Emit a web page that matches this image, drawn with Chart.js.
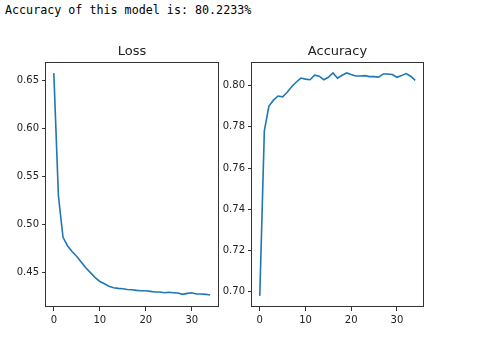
<!DOCTYPE html>
<html>
<head>
<meta charset="utf-8">
<script src="https://cdn.jsdelivr.net/npm/chart.js@4/dist/chart.umd.min.js"></script>
<style>
  body { margin: 0; background: #fff; width: 490px; height: 338px; position: relative; overflow: hidden; }
  #caption { position: absolute; left: 5px; top: 3px; font-family: "DejaVu Sans Mono", monospace; font-size: 11.7px; color: #000; white-space: pre; }
  canvas { position: absolute; }
  #lossChart { left: 0; top: 36px; }
  #accChart { left: 212px; top: 36px; }
</style>
</head>
<body>
<div id="caption">Accuracy of this model is: 80.2233%</div>
<canvas id="lossChart" width="222" height="302"></canvas>
<canvas id="accChart" width="216" height="302"></canvas>
<script>
// epochs and history
const epochs = [0, 1, 2, 3, 4, 5, 6, 7, 8, 9, 10, 11, 12, 13, 14, 15, 16,
  17, 18, 19, 20, 21, 22, 23, 24, 25, 26, 27, 28, 29, 30, 31, 32, 33, 34];

const lossValues = [0.658, 0.530, 0.487, 0.478, 0.472, 0.467, 0.461, 0.455, 0.450, 0.445,
  0.441, 0.4386, 0.436, 0.4345, 0.4338, 0.4334, 0.4327, 0.4324, 0.4317, 0.4314,
  0.4314, 0.4307, 0.4300, 0.4300, 0.4293, 0.4297, 0.4293, 0.4290, 0.4276, 0.4286,
  0.4293, 0.4280, 0.4279, 0.4276, 0.4269];

const accValues = [0.698, 0.778, 0.790, 0.7929, 0.7949, 0.7945, 0.7967, 0.7995, 0.8017, 0.8036,
  0.8031, 0.8028, 0.8050, 0.8045, 0.8028, 0.8040, 0.8061, 0.8036, 0.8050, 0.8061,
  0.8053, 0.8046, 0.8046, 0.8048, 0.8043, 0.8043, 0.8041, 0.8056, 0.8056, 0.8053,
  0.8040, 0.8048, 0.8058, 0.8045, 0.8025];

const xTicks = [0, 10, 20, 30];
const lossTicks = [0.45, 0.50, 0.55, 0.60, 0.65];
const accTicks = [0.70, 0.72, 0.74, 0.76, 0.78, 0.80];

const LINE = '#1f77b4';
const AXIS = '#333333';

// matplotlib style box around the plot area
const frame = {
  id: 'frame',
  afterDraw(chart) {
    const a = chart.chartArea;
    const c = chart.ctx;
    c.save();
    c.strokeStyle = AXIS;
    c.lineWidth = 1;
    c.strokeRect(Math.round(a.left) - 0.5, Math.round(a.top) + 0.5,
      Math.round(a.right - a.left) + 1, Math.round(a.bottom - a.top) - 1);
    c.restore();
  }
};

function makePlot(id, title, values, yTicks, yMin, yMax, yWidth, padRight) {
  const ctx = document.getElementById(id);
  new Chart(ctx, {
    type: 'line',
    data: {
      datasets: [{
        data: epochs.map((e, i) => ({ x: e, y: values[i] })),
        borderColor: LINE,
        borderWidth: 1.6,
        pointRadius: 0,
        tension: 0,
        fill: false
      }]
    },
    options: {
      responsive: false,
      animation: false,
      devicePixelRatio: 1,
      layout: { padding: { left: 0, right: padRight, top: 0, bottom: 0 } },
      plugins: {
        legend: { display: false },
        tooltip: { enabled: false },
        title: {
          display: true,
          fullSize: false,
          text: title,
          color: '#222',
          font: { family: 'DejaVu Sans', size: 13, weight: 'normal' },
          padding: { top: 8, bottom: 2.4 }
        }
      },
      scales: {
        x: {
          type: 'linear',
          min: -1.7,
          max: 35.7,
          afterBuildTicks: s => { s.ticks = xTicks.map(v => ({ value: v })); },
          afterFit: s => { s.height = 31; },
          border: { display: false },
          grid: { display: true, drawOnChartArea: false, drawTicks: true, tickLength: 4, color: AXIS },
          ticks: {
            color: '#222',
            padding: 3,
            maxRotation: 0,
            font: { family: 'DejaVu Sans', size: 10 },
            callback: v => String(v)
          }
        },
        y: {
          min: yMin,
          max: yMax,
          afterBuildTicks: s => { s.ticks = yTicks.map(v => ({ value: v })); },
          afterFit: s => { s.width = yWidth; },
          border: { display: false },
          grid: { display: true, drawOnChartArea: false, drawTicks: true, tickLength: 4, color: AXIS },
          ticks: {
            color: '#222',
            padding: 3,
            font: { family: 'DejaVu Sans', size: 10 },
            callback: v => v.toFixed(2)
          }
        }
      }
    },
    plugins: [frame]
  });
}

makePlot('lossChart', 'Loss', lossValues, lossTicks, 0.4144, 0.6696, 46, 4);
makePlot('accChart', 'Accuracy', accValues, accTicks, 0.6926, 0.8114, 40, 5);
</script>
</body>
</html>
